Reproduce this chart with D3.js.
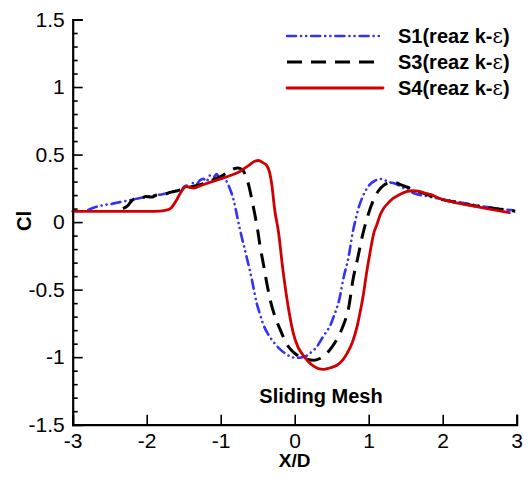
<!DOCTYPE html>
<html>
<head>
<meta charset="utf-8">
<script src="https://cdn.jsdelivr.net/npm/d3@7"></script>
<style>
  html, body { margin: 0; padding: 0; background: #fff; }
  svg { display: block; font-family: "Liberation Sans", Arial, Helvetica, sans-serif; }
</style>
</head>
<body>
<svg id="chart" width="529" height="478"></svg>
<script>
// Mean lift coefficient along X/D for three sliding-mesh cases
const s1X = [-2.79,-2.7,-2.59,-2.47,-2.36,-2.25,-2.135,-2.02,-1.91,-1.8,-1.685,-1.6,-1.55,-1.5,-1.46,-1.42,-1.38,-1.33,-1.28,-1.235,-1.19,-1.15,-1.1,-1.054,-1.02,-0.98,-0.95,-0.919,-0.885,-0.851,-0.815,-0.784,-0.75,-0.716,-0.68,-0.649,-0.61,-0.57,-0.514,-0.47,-0.43,-0.36,-0.289,-0.2,-0.108,-0.04,0.027,0.1,0.162,0.23,0.297,0.37,0.43,0.477,0.52,0.612,0.657,0.724,0.79,0.815,0.86,0.905,0.96,1.018,1.08,1.153,1.2,1.26,1.378,1.48,1.603,1.8,2.099,2.3,2.549,2.75,2.954];
const s1Y = [0.09,0.11,0.125,0.135,0.148,0.16,0.173,0.185,0.197,0.205,0.22,0.235,0.215,0.26,0.27,0.25,0.29,0.28,0.31,0.32,0.30,0.345,0.33,0.355,0.33,0.345,0.32,0.30,0.26,0.21,0.14,0.06,-0.03,-0.11,-0.19,-0.26,-0.35,-0.45,-0.6,-0.68,-0.75,-0.83,-0.885,-0.94,-0.98,-1.0,-1.005,-1.0,-0.99,-0.96,-0.925,-0.86,-0.81,-0.77,-0.71,-0.55,-0.42,-0.27,-0.06,0.0,0.1,0.17,0.235,0.28,0.305,0.32,0.315,0.30,0.28,0.25,0.215,0.19,0.16,0.14,0.116,0.10,0.087];

const s3X = [-2.32,-2.26,-2.2,-2.14,-2.08,-2.02,-1.94,-1.86,-1.76,-1.685,-1.6,-1.505,-1.37,-1.235,-1.12,-1.01,-0.93,-0.874,-0.82,-0.77,-0.71,-0.66,-0.62,-0.58,-0.54,-0.5,-0.47,-0.42,-0.378,-0.32,-0.266,-0.2,-0.154,-0.1,-0.041,0.02,0.072,0.16,0.25,0.34,0.432,0.51,0.589,0.66,0.724,0.79,0.85,0.92,0.99,1.062,1.13,1.197,1.27,1.34,1.42,1.514,1.65,1.828,1.92,2.2,2.549,2.78,2.98];
const s3Y = [0.10,0.12,0.16,0.175,0.17,0.19,0.185,0.20,0.205,0.22,0.23,0.247,0.265,0.285,0.31,0.335,0.36,0.38,0.395,0.40,0.39,0.34,0.27,0.17,0.06,-0.06,-0.17,-0.32,-0.45,-0.6,-0.70,-0.79,-0.85,-0.91,-0.95,-0.98,-1.0,-1.015,-1.023,-1.01,-0.973,-0.92,-0.85,-0.76,-0.65,-0.42,-0.27,-0.09,0.05,0.16,0.23,0.27,0.292,0.296,0.28,0.26,0.23,0.197,0.178,0.145,0.111,0.095,0.081];

const s4X = [-3.0,-2.5,-2.0,-1.82,-1.72,-1.66,-1.6,-1.55,-1.5,-1.46,-1.41,-1.37,-1.25,-1.14,-1.0,-0.87,-0.74,-0.62,-0.54,-0.49,-0.43,-0.38,-0.34,-0.31,-0.27,-0.22,-0.16,-0.09,-0.02,0.04,0.1,0.18,0.25,0.32,0.39,0.47,0.57,0.65,0.71,0.78,0.84,0.89,0.93,0.97,1.02,1.07,1.11,1.16,1.2,1.27,1.33,1.42,1.51,1.6,1.67,1.76,1.83,1.96,2.14,2.35,2.6,2.9];
const s4Y = [0.08,0.08,0.08,0.082,0.09,0.11,0.16,0.21,0.25,0.262,0.255,0.252,0.275,0.295,0.32,0.345,0.375,0.42,0.45,0.456,0.44,0.42,0.37,0.28,0.09,-0.07,-0.35,-0.62,-0.82,-0.92,-0.975,-1.03,-1.065,-1.085,-1.09,-1.08,-1.06,-1.02,-0.97,-0.89,-0.78,-0.65,-0.53,-0.38,-0.22,-0.08,-0.02,0.06,0.1,0.145,0.175,0.205,0.226,0.232,0.23,0.215,0.205,0.175,0.148,0.125,0.099,0.07];

const xTicks = [-3,-2,-1,0,1,2,3];
const yTicks = [-1.5,-1,-0.5,0,0.5,1,1.5];
const yMinorTicks = d3.range(-15, 16).map(d => d / 10);

const seriesNames = ["S1(reaz k-", "S3(reaz k-", "S4(reaz k-"];
const seriesColors = ["#3333f8", "#000000", "#d00000"];

const svg = d3.select("#chart");
const plot = { left: 72.7, right: 516.7, top: 19.5, bottom: 424.7 };

const x = d3.scaleLinear().domain([-3, 3]).range([plot.left, plot.right]);
const y = d3.scaleLinear().domain([-1.5, 1.5]).range([plot.bottom, plot.top]);

// Curves
const line = d3.line()
  .x(d => x(d[0]))
  .y(d => y(d[1]))
  .curve(d3.curveMonotoneX);

const series = [
  { xs: s1X, ys: s1Y, color: seriesColors[0], width: 2.6, dash: "9 5 0.1 5 0.1 5", cap: "round" },
  { xs: s3X, ys: s3Y, color: seriesColors[1], width: 3, dash: "15 9", cap: "butt" },
  { xs: s4X, ys: s4Y, color: seriesColors[2], width: 2.8, dash: null, cap: "round" }
];

series.forEach(s => {
  const pts = s.xs.map((v, i) => [v, s.ys[i]]);
  svg.append("path")
    .datum(pts)
    .attr("d", line)
    .attr("fill", "none")
    .attr("stroke", s.color)
    .attr("stroke-width", s.width)
    .attr("stroke-linecap", s.cap)
    .attr("stroke-linejoin", "round")
    .attr("stroke-dasharray", s.dash);
});

// Axes with inward ticks; labels use a plain hyphen for negatives
const xAxis = d3.axisBottom(x).tickValues(xTicks).tickSize(-10)
  .tickFormat(d => String(d));
const gx = svg.append("g").attr("transform", `translate(0,${plot.bottom})`).call(xAxis);

const yAxis = d3.axisLeft(y).tickValues(yTicks).tickSize(-10).tickPadding(8)
  .tickFormat(d => String(d));
const gy = svg.append("g").attr("transform", `translate(${plot.left},0)`).call(yAxis);

const yMinor = d3.axisLeft(y).tickValues(yMinorTicks.filter(v => !yTicks.some(t => Math.abs(t - v) < 1e-9)))
  .tickSize(-5).tickFormat("");
const gym = svg.append("g").attr("transform", `translate(${plot.left},0)`).call(yMinor);
gym.select(".domain").remove();

[gx, gy, gym].forEach(g => {
  g.select(".domain").attr("stroke", "#000").attr("stroke-width", 2.2);
  g.selectAll(".tick line").attr("stroke", "#000").attr("stroke-width", 1.6);
  g.selectAll(".tick text")
    .attr("fill", "#000")
    .style("font-family", '"Liberation Sans", Arial, sans-serif')
    .style("font-size", "21px");
});
gx.selectAll(".tick text").attr("y", 23).attr("dy", 0);

// Axis titles
svg.append("text")
  .attr("x", x(0))
  .attr("y", 467)
  .attr("text-anchor", "middle")
  .style("font-size", "19px")
  .style("font-weight", "bold")
  .text("X/D");

svg.append("text")
  .attr("transform", `translate(31,221) rotate(-90)`)
  .attr("text-anchor", "middle")
  .style("font-size", "20px")
  .style("font-weight", "bold")
  .text("Cl");

svg.append("text")
  .attr("x", 321)
  .attr("y", 403)
  .attr("text-anchor", "middle")
  .style("font-size", "20px")
  .style("font-weight", "bold")
  .text("Sliding Mesh");

// Legend
const legendY = [36, 62, 88];
series.forEach((s, i) => {
  const ly = legendY[i];
  svg.append("line")
    .attr("x1", 287).attr("x2", 383)
    .attr("y1", ly).attr("y2", ly)
    .attr("stroke", s.color)
    .attr("stroke-width", s.width)
    .attr("stroke-linecap", s.cap)
    .attr("stroke-dasharray", s.dash);
  const t = svg.append("text")
    .attr("x", 398)
    .attr("y", ly + 7)
    .style("font-size", "20px")
    .style("font-weight", "bold");
  t.append("tspan").text(seriesNames[i]);
  t.append("tspan").style("font-weight", "normal").style("font-family", '"DejaVu Serif", serif').text("ε");
  t.append("tspan").text(")");
});
</script>
</body>
</html>
